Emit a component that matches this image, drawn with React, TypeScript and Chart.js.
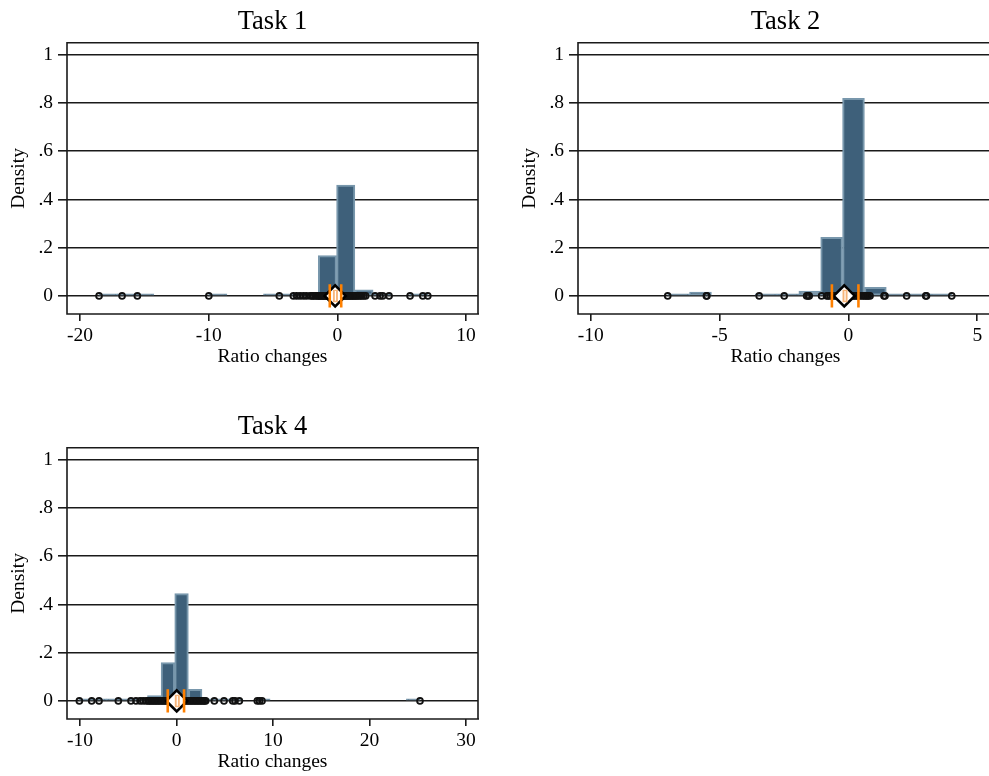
import React, { useEffect, useRef } from 'react';
import { Chart, registerables } from 'chart.js';

Chart.register(...registerables);

const FONT = "'Liberation Serif', 'Times New Roman', serif";
Chart.defaults.font.family = FONT;
Chart.defaults.color = '#000';

// ---- shared axis data ----
const yTickValues = [0, 0.2, 0.4, 0.6, 0.8, 1];
const yTickLabels = ['0', '.2', '.4', '.6', '.8', '1'];
const yAxisTitle = 'Density';
const xAxisTitle = 'Ratio changes';

// ---- Task 1 ----
const task1Title = 'Task 1';
const task1XTicks = [-20, -10, 0, 10];
const task1BinStart = -18.52;
const task1BinWidth = 1.42;
const task1Density = [0.0025, 0.0025, 0.0025, null, null, null, 0.0025, null, null, 0.0025, 0.005, 0.012, 0.167, 0.46, 0.025, 0.006, null, 0.005];
const task1Points = [
  -18.52, -16.73, -15.54, -9.99, -4.51, -3.42, -3.16, -2.9, -2.64, -2.4, -2.12, -1.95, -1.87, -1.72, -1.6,
  -1.48, -1.4, -1.32, -1.22, -1.15, -1.05, -0.98, -0.9, -0.82, -0.75, -0.66, -0.58, -0.5, -0.42, -0.35,
  -0.28, -0.2, -0.12, -0.05, 0.05, 0.12, 0.2, 0.28, 0.36, 0.44, 0.52, 0.6, 0.68, 0.76, 0.85, 0.93, 1.02,
  1.1, 1.18, 1.27, 1.36, 1.45, 1.55, 1.66, 1.78, 1.9, 2.05, 2.2, 2.93, 3.32, 3.53, 4.02, 5.65, 6.64, 7.03,
];
const task1Q25 = -0.59;
const task1Q75 = 0.3;
const task1Mean = -0.17;
const task1Median = -0.15;

// ---- Task 2 ----
const task2Title = 'Task 2';
const task2XTicks = [-10, -5, 0, 5];
const task2BinStart = -7.01;
const task2BinWidth = 0.848;
const task2Density = [0.005, 0.016, null, null, 0.005, 0.005, 0.02, 0.243, 0.82, 0.036, 0.005, 0.008, 0.005];
const task2Points = [
  -7.01, -5.51, -5.49, -3.46, -2.49, -1.62, -1.56, -1.52, -1.04, -0.84, -0.78, -0.71, -0.62, -0.55, -0.48,
  -0.42, -0.36, -0.3, -0.24, -0.18, -0.12, -0.06, 0, 0.06, 0.12, 0.18, 0.24, 0.3, 0.37, 0.45, 0.53, 0.6,
  0.66, 0.72, 0.77, 0.84, 1.38, 1.42, 2.26, 3.0, 3.03, 4.01,
];
const task2Q25 = -0.64;
const task2Q75 = 0.39;
const task2Mean = -0.16;
const task2Median = -0.13;

// ---- Task 4 ----
const task4Title = 'Task 4';
const task4XTicks = [-10, 0, 10, 20, 30];
const task4BinStart = -10.07;
const task4BinWidth = 1.412;
const task4Density = [
  0.0028, 0.0014, 0.0014, 0.0014, 0.008, 0.022, 0.159, 0.445, 0.048, 0.006, 0.0014, 0.004, null, 0.004,
  null, null, null, null, null, null, null, null, null, null, 0.0014,
];
const task4Points = [
  -10.07, -8.79, -8.03, -6.03, -4.72, -4.2, -3.78, -3.47, -3.16, -2.95, -2.8, -2.65, -2.5, -2.35, -2.2,
  -2.05, -1.9, -1.75, -1.6, -1.45, -1.3, -1.15, -1.0, -0.85, -0.7, -0.55, -0.4, -0.25, -0.1, 0.05, 0.2,
  0.35, 0.5, 0.65, 0.8, 0.95, 1.1, 1.25, 1.4, 1.55, 1.7, 1.85, 2.0, 2.15, 2.3, 2.45, 2.6, 2.75, 2.9, 3.02,
  3.92, 4.92, 5.82, 6.06, 6.51, 8.37, 8.6, 8.86, 25.23,
];
const task4Q25 = -0.91;
const task4Q75 = 0.78;
const task4Mean = 0.02;
const task4Median = 0.08;

// ---- styles ----
const BAR_FILL = '#3e607a';
const BAR_EDGE = '#7897ac';
const ORANGE = '#ff8000';
const PEACH = '#f7b57a';
const LINE = '#1a1a1a';

function makeFramePlugin(drawRight: boolean) {
  return {
    id: 'frame',
    afterDraw(chart: any) {
      const { ctx, chartArea } = chart;
      const { left, top, right, bottom } = chartArea;
      ctx.save();
      ctx.strokeStyle = LINE;
      ctx.lineWidth = 1.6;
      ctx.beginPath();
      ctx.moveTo(right + 1, top);
      ctx.lineTo(left, top);
      ctx.lineTo(left, bottom);
      ctx.lineTo(right + 1, bottom);
      if (drawRight) {
        ctx.moveTo(right, top);
        ctx.lineTo(right, bottom);
      }
      ctx.stroke();
      ctx.restore();
    },
  };
}

type PanelSpec = {
  title: string;
  xTicks: number[];
  binStart: number;
  binWidth: number;
  density: (number | null)[];
  points: number[];
  q25: number;
  q75: number;
  mean: number;
  median: number;
  xMin: number;
  xMax: number;
  left: number;
  top: number;
  width: number;
  drawRight: boolean;
};

const panels: PanelSpec[] = [
  {
    title: task1Title, xTicks: task1XTicks, binStart: task1BinStart, binWidth: task1BinWidth,
    density: task1Density, points: task1Points, q25: task1Q25, q75: task1Q75, mean: task1Mean, median: task1Median,
    xMin: -21.01, xMax: 10.93, left: 0, top: 0, width: 480, drawRight: true,
  },
  {
    title: task2Title, xTicks: task2XTicks, binStart: task2BinStart, binWidth: task2BinWidth,
    density: task2Density, points: task2Points, q25: task2Q25, q75: task2Q75, mean: task2Mean, median: task2Median,
    xMin: -10.49, xMax: 5.61, left: 511, top: 0, width: 484, drawRight: false,
  },
  {
    title: task4Title, xTicks: task4XTicks, binStart: task4BinStart, binWidth: task4BinWidth,
    density: task4Density, points: task4Points, q25: task4Q25, q75: task4Q75, mean: task4Mean, median: task4Median,
    xMin: -11.35, xMax: 31.24, left: 0, top: 405, width: 480, drawRight: true,
  },
];

const PANEL_HEIGHT = 374;

function Panel({ spec }: { spec: PanelSpec }) {
  const ref = useRef<HTMLCanvasElement | null>(null);

  useEffect(() => {
    if (!ref.current) return;
    const bars = spec.density.map((d, i) => ({ x: spec.binStart + (i + 0.5) * spec.binWidth, y: d }));
    const tickHalf = 0.048;
    const chart = new Chart(ref.current, {
      type: 'bar',
      data: {
        datasets: [
          {
            type: 'bar',
            data: bars as any,
            backgroundColor: BAR_FILL,
            borderColor: BAR_EDGE,
            borderWidth: 2,
            borderSkipped: false,
            barPercentage: 1,
            categoryPercentage: 1,
            minBarLength: 2,
            order: 6,
          } as any,
          {
            type: 'scatter',
            data: spec.points.map((v) => ({ x: v, y: 0 })),
            pointStyle: 'circle',
            pointRadius: 2.9,
            pointBorderWidth: 1.8,
            pointBorderColor: '#111',
            pointBackgroundColor: 'rgba(0,0,0,0)',
            borderColor: '#111',
            backgroundColor: 'rgba(0,0,0,0)',
            order: 5,
          } as any,
          {
            type: 'scatter',
            data: [{ x: spec.mean, y: 0 }],
            pointStyle: 'rectRot',
            pointRadius: 10.5,
            pointBorderWidth: 2.6,
            pointBorderColor: '#000',
            pointBackgroundColor: '#fff',
            borderColor: '#000',
            backgroundColor: '#fff',
            order: 4,
          } as any,
          {
            type: 'line',
            data: [{ x: spec.q25, y: -tickHalf }, { x: spec.q25, y: tickHalf }],
            borderColor: ORANGE,
            borderWidth: 2.6,
            pointRadius: 0,
            order: 3,
          } as any,
          {
            type: 'line',
            data: [{ x: spec.q75, y: -tickHalf }, { x: spec.q75, y: tickHalf }],
            borderColor: ORANGE,
            borderWidth: 2.6,
            pointRadius: 0,
            order: 3,
          } as any,
          {
            type: 'line',
            data: [{ x: spec.median, y: -0.026 }, { x: spec.median, y: 0.026 }],
            borderColor: PEACH,
            borderWidth: 5,
            pointRadius: 0,
            order: 2,
          } as any,
          {
            type: 'line',
            data: [{ x: spec.median, y: -0.02 }, { x: spec.median, y: 0.02 }],
            borderColor: '#ffffff',
            borderWidth: 1.2,
            pointRadius: 0,
            order: 1,
          } as any,
        ],
      },
      options: {
        responsive: false,
        maintainAspectRatio: false,
        animation: false,
        events: [],
        layout: { autoPadding: false, padding: { left: 0, top: 0, right: 2, bottom: 0 } },
        plugins: {
          legend: { display: false },
          tooltip: { enabled: false },
          title: {
            display: true,
            text: spec.title,
            fullSize: false,
            color: '#000',
            font: { family: FONT, size: 26.5, weight: 'normal' },
            padding: { top: 6, bottom: 5 },
          },
        },
        scales: {
          x: {
            type: 'linear',
            min: spec.xMin,
            max: spec.xMax,
            bounds: 'data',
            offset: false,
            afterBuildTicks: (s: any) => {
              s.ticks = spec.xTicks.map((v) => ({ value: v }));
            },
            afterFit: (s: any) => {
              s.height = 60;
              s.paddingLeft = 0;
              s.paddingRight = 0;
            },
            ticks: {
              autoSkip: false,
              maxRotation: 0,
              padding: 3,
              color: '#000',
              font: { family: FONT, size: 19.5 },
              callback: (v: any) => String(v),
            },
            grid: {
              offset: false,
              drawOnChartArea: false,
              drawTicks: true,
              tickLength: 7,
              color: LINE,
              lineWidth: 1.6,
            },
            border: { display: false },
            title: {
              display: true,
              text: xAxisTitle,
              color: '#000',
              font: { family: FONT, size: 19.5 },
              padding: { top: 0, bottom: 5.3 },
            },
          },
          y: {
            type: 'linear',
            min: -0.075,
            max: 1.05,
            bounds: 'data',
            afterBuildTicks: (s: any) => {
              s.ticks = yTickValues.map((v) => ({ value: v }));
            },
            afterFit: (s: any) => {
              s.width = 67;
              s.paddingTop = 0;
              s.paddingBottom = 0;
            },
            ticks: {
              autoSkip: false,
              padding: 5,
              color: '#000',
              font: { family: FONT, size: 19.5 },
              callback: (_v: any, i: number) => yTickLabels[i],
            },
            grid: {
              drawOnChartArea: true,
              drawTicks: true,
              tickLength: 9,
              color: LINE,
              lineWidth: 1.6,
            },
            border: { display: false },
            title: {
              display: true,
              text: yAxisTitle,
              color: '#000',
              font: { family: FONT, size: 19.5 },
              padding: { top: 7.3, bottom: 0 },
            },
          },
        },
      } as any,
      plugins: [makeFramePlugin(spec.drawRight)],
    });
    return () => chart.destroy();
  }, [spec]);

  return (
    <canvas
      ref={ref}
      width={spec.width}
      height={PANEL_HEIGHT}
      style={{ position: 'absolute', left: spec.left, top: spec.top, width: spec.width, height: PANEL_HEIGHT, display: 'block' }}
    />
  );
}

export default function App() {
  return (
    <div
      style={{
        position: 'fixed',
        left: 0,
        top: 0,
        width: 989,
        height: 776,
        overflow: 'hidden',
        background: '#fff',
      }}
    >
      {panels.map((p) => (
        <Panel key={p.title} spec={p} />
      ))}
    </div>
  );
}
